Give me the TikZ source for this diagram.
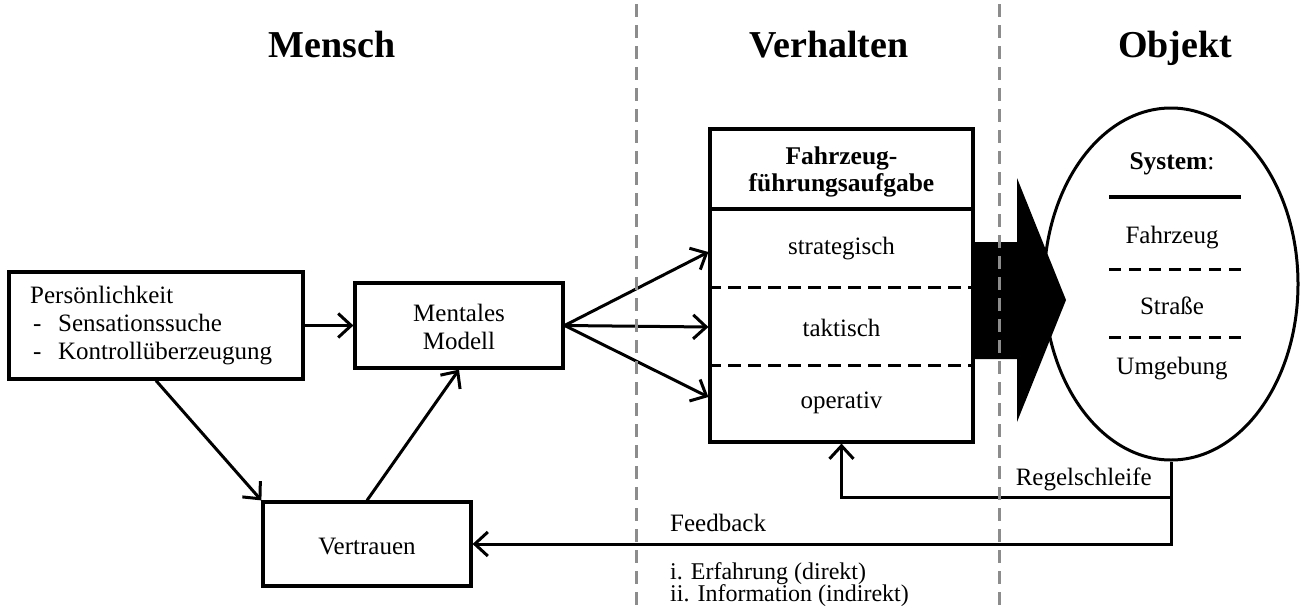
\documentclass[tikz,border=0pt]{standalone}
\usepackage{fontspec}
\setmainfont{Liberation Serif}
\usetikzlibrary{arrows.meta,shapes.geometric,calc}
\tikzset{
  box/.style={draw, line width=3.2pt, inner sep=0pt},
  txt/.style={inner sep=0pt, font=\fontsize{25}{28}\selectfont, align=center},
  btxt/.style={inner sep=0pt, font=\fontsize{25.5}{27}\selectfont\bfseries, align=center},
  title/.style={inner sep=0pt, font=\fontsize{38}{40}\selectfont\bfseries, anchor=base},
  arr/.style={-{Straight Barb[length=13pt,width=24pt]}, line width=3pt},
  sep/.style={line width=3pt, dash pattern=on 13pt off 7pt},
  zone/.style={line width=3pt, draw=black!45, dash pattern=on 13pt off 8pt},
  ltxt/.style={inner sep=0pt, font=\fontsize{24}{23}\selectfont, anchor=base west},
}
\begin{document}
\begin{tikzpicture}[x=1pt,y=-1pt]
\useasboundingbox (0,0) rectangle (1303,608);

% titles
\node[title] (tm) at (332,57) {Mensch};
\node[title] (tv) at (829,57) {Verhalten};
\node[title] (to) at (1175,57) {Objekt};

% Mensch side
\node[box, minimum width=294pt, minimum height=107pt] (pers) at (156,325.5) {};
\node[txt, anchor=west, align=left] (perstext) at (30,326)
  {Persönlichkeit\\\hspace{3pt}\makebox[25pt][l]{-}Sensationssuche\\\hspace{3pt}\makebox[25pt][l]{-}Kontrollüberzeugung};
\node[box, minimum width=208pt, minimum height=85pt] (ment) at (459,325.5) {};
\node[txt] (menttext) at (459,327) {Mentales\\Modell};
\node[box, minimum width=208pt, minimum height=84pt] (vert) at (367,544) {};
\node[txt] (verttext) at (367,546) {Vertrauen};

% Verhalten box
\node[box, minimum width=263pt, minimum height=313pt] (ffa) at (841.5,285.5) {};
\node[btxt] (head) at (841.5,172) {Fahrzeug-\\führungsaufgabe};
\node[txt] (strat) at (841.5,249) {strategisch};
\node[txt] (takt) at (841.5,328) {taktisch};
\node[txt] (oper) at (841.5,403) {operativ};
\coordinate (l1) at (0,209);
\coordinate (l2) at (0,287);
\coordinate (l3) at (0,365);
\draw[line width=3.2pt] (ffa.west |- l1) -- (ffa.east |- l1);
\draw[sep] (ffa.west |- l2) -- (ffa.east |- l2);
\draw[sep] (ffa.west |- l3) -- (ffa.east |- l3);

% Objekt ellipse
\node[ellipse, draw, line width=3pt, minimum width=254pt, minimum height=352pt, inner sep=0pt] (sys) at (1171,284) {};
\node[btxt] (systitle) at (1172,164) {System{\mdseries:}};
\node[txt] (fz) at (1172,238) {Fahrzeug};
\node[txt] (str) at (1172,306) {Straße};
\node[txt] (umg) at (1172,369) {Umgebung};
\coordinate (s1) at (1109,197);
\coordinate (s1e) at (1241,197);
\coordinate (s2) at (1109,269);
\coordinate (s2e) at (1241,269);
\coordinate (s3) at (1109,337);
\coordinate (s3e) at (1241,337);
\draw[line width=3.2pt] (s1) -- (s1e);
\draw[line width=3pt, dash pattern=on 12pt off 8pt] (s2) -- (s2e);
\draw[line width=3pt, dash pattern=on 12pt off 8pt] (s3) -- (s3e);

% big arrow
\fill (ffa.east |- 0,242) -- (1017,242) -- (1017,178) -- (1066,300) -- (1017,422) -- (1017,359) -- (ffa.east |- 0,359) -- cycle;

% connectors
\draw[arr] (pers.east) -- (ment.west);
\draw[arr] (pers.south) -- (vert.north west);
\draw[arr] (vert.north) -- (ment.south);
\draw[arr] (ment.east) -- (ffa.west |- 0,252);
\draw[arr] (ment.east) -- (ffa.west |- 0,327);
\draw[arr] (ment.east) -- (ffa.west |- 0,397);
\coordinate (rk) at (0,497);
\draw[arr] (sys.south) |- (ffa.south |- rk) -- (ffa.south);
\draw[arr] (sys.south) |- (vert.east);

% labels
\node[txt, anchor=east] (regel) at (1152,479) {Regelschleife};
\node[txt, anchor=west] (fb) at (670,523) {Feedback};
\node[ltxt] (fblist) at (670,579) {i. Erfahrung (direkt)};
\node[ltxt] (fblist2) at (670,601.5) {ii. Information (indirekt)};

% zone separators
\coordinate (z1t) at (636,4);
\coordinate (z1b) at (636,608);
\coordinate (z2t) at (999,4);
\coordinate (z2b) at (999,608);
\draw[zone] (z1t) -- (z1b);
\draw[zone] (z2t) -- (z2b);
\end{tikzpicture}
\end{document}
